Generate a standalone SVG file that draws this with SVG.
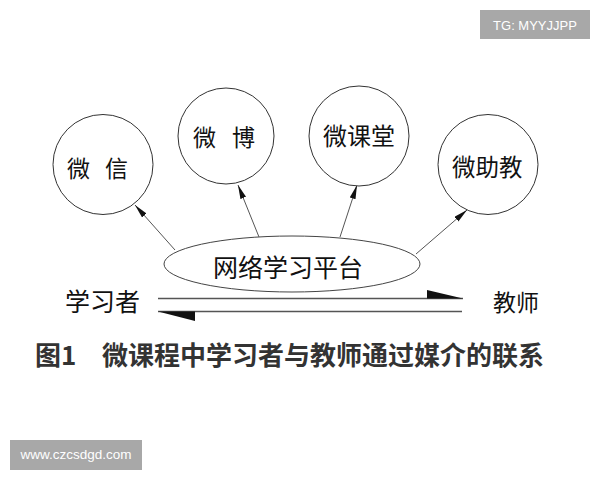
<svg xmlns="http://www.w3.org/2000/svg" width="600" height="480" viewBox="0 0 600 480">
<style>
.node circle{fill:#fff;stroke:#333;stroke-width:1}
.node ellipse{fill:#fff;stroke:#444;stroke-width:1}
.lbl{font-family:"Noto Sans CJK SC","Noto Sans",sans-serif;fill:#111}
.conn line{stroke:#555;stroke-width:1}
.cap{font-family:"Noto Sans CJK SC","Noto Sans",sans-serif;font-weight:bold;fill:#333;font-size:26px}
.wm rect{fill:#a8a8a8}
.wm text{font-family:"Liberation Sans",Arial,sans-serif;fill:#fff;font-size:13px;text-anchor:middle}
</style>
<defs>
<marker id="ah" markerUnits="userSpaceOnUse" markerWidth="15" markerHeight="7" refX="14" refY="3" orient="auto">
<path d="M0,0 L14,3 L0,6 z" fill="#111"/>
</marker>
</defs>
<rect width="600" height="480" fill="#fff"/>
<g class="conn">
<line x1="175" y1="250" x2="135" y2="205" marker-end="url(#ah)"/>
<line x1="259" y1="237" x2="238" y2="185" marker-end="url(#ah)"/>
<line x1="340" y1="237" x2="357" y2="185" marker-end="url(#ah)"/>
<line x1="416" y1="254" x2="467" y2="210" marker-end="url(#ah)"/>
<line x1="158" y1="298.5" x2="463" y2="298.5" style="stroke-width:1.5"/>
<path d="M427,290 L463,298.5 L427,298.5 z" fill="#111"/>
<line x1="158" y1="311.5" x2="462" y2="311.5" style="stroke-width:1.5"/>
<path d="M158,311.5 L195,311.5 L195,321 z" fill="#111"/>
</g>
<g id="weixin" class="node">
<circle cx="103" cy="164.5" r="50"/>
<text class="lbl" x="67" y="177" font-size="23" letter-spacing="4.9">微 信</text>
</g>
<g id="weibo" class="node">
<circle cx="226" cy="136" r="48"/>
<text class="lbl" x="193" y="146" font-size="23" letter-spacing="5.4">微 博</text>
</g>
<g id="weiketang" class="node">
<circle cx="359" cy="136" r="50"/>
<text class="lbl" x="323" y="145" font-size="24">微课堂</text>
</g>
<g id="weizhujiao" class="node">
<circle cx="488" cy="164.5" r="50"/>
<text class="lbl" x="452" y="176" font-size="23.5">微助教</text>
</g>
<g id="platform" class="node">
<ellipse cx="292" cy="264" rx="128" ry="28"/>
<text class="lbl" x="213" y="277" font-size="25">网络学习平台</text>
</g>
<g id="learner" class="node">
<text class="lbl" x="65" y="311" font-size="25">学习者</text>
</g>
<g id="teacher" class="node">
<text class="lbl" x="493" y="311" font-size="23">教师</text>
</g>
<text class="cap" x="35" y="365">图1 <tspan x="102">微课程中学习者与教师通过媒介的联系</tspan></text>
<g class="wm">
<rect x="480" y="10" width="110" height="29"/>
<text x="535" y="30">TG: MYYJJPP</text>
<rect x="10" y="440" width="132" height="30"/>
<text x="76" y="458.5" style="font-size:13.5px">www.czcsdgd.com</text>
</g>
</svg>
